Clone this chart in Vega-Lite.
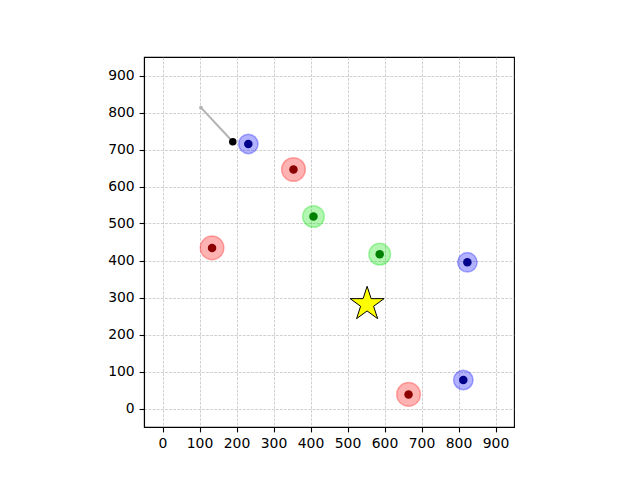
{
  "$schema": "https://vega.github.io/schema/vega-lite/v6.json",
  "autosize": {"type": "none"},
  "padding": {"left": 144, "top": 57, "right": 126, "bottom": 53},
  "width": 370,
  "height": 370,
  "background": "white",
  "config": {
    "view": {"stroke": "black", "strokeWidth": 1.1},
    "axis": {
      "labelFont": "DejaVu Sans",
      "labelFontSize": 13.9,
      "labelColor": "black",
      "tickColor": "black",
      "tickSize": 4.9,
      "tickWidth": 1.1,
      "labelPadding": 4.9,
      "domainColor": "black",
      "domainWidth": 1.1,
      "gridColor": "#b0b0b0",
      "gridWidth": 0.6,
      "gridDash": [2.8, 1.3]
    }
  },
  "datasets": {
    "trail": [
      {"x": 104, "y": 813, "step": 0},
      {"x": 190, "y": 721, "step": 1}
    ],
    "agents": [
      {"x": 232, "y": 715, "team": "blue"},
      {"x": 354, "y": 646, "team": "red"},
      {"x": 408, "y": 519, "team": "green"},
      {"x": 134, "y": 434, "team": "red"},
      {"x": 587, "y": 417, "team": "green"},
      {"x": 824, "y": 395, "team": "blue"},
      {"x": 813, "y": 77, "team": "blue"},
      {"x": 665, "y": 38, "team": "red"}
    ],
    "tracker": [{"x": 190, "y": 721}],
    "goal": [{"x": 553, "y": 282}]
  },
  "encoding": {
    "x": {
      "field": "x", "type": "quantitative", "title": null,
      "scale": {"domain": [-50, 950], "nice": false, "zero": false},
      "axis": {"values": [0, 100, 200, 300, 400, 500, 600, 700, 800, 900]}
    },
    "y": {
      "field": "y", "type": "quantitative", "title": null,
      "scale": {"domain": [-50, 950], "nice": false, "zero": false},
      "axis": {"values": [0, 100, 200, 300, 400, 500, 600, 700, 800, 900]}
    }
  },
  "layer": [
    {
      "data": {"name": "trail"},
      "mark": {"type": "line", "color": "#b3b3b3", "strokeWidth": 2},
      "encoding": {"order": {"field": "step"}}
    },
    {
      "data": {"name": "trail"},
      "transform": [{"filter": "datum.step == 0"}],
      "mark": {"type": "point", "filled": true, "color": "#b3b3b3", "size": 14, "opacity": 1}
    },
    {
      "data": {"name": "agents"},
      "mark": {"type": "point", "shape": "circle", "filled": true, "fillOpacity": 0.3, "strokeOpacity": 0.3, "strokeWidth": 1.5},
      "encoding": {
        "fill": {"field": "team", "type": "nominal", "scale": {"domain": ["red", "green", "blue"], "range": ["#ff0000", "#00e000", "#0000ff"]}, "legend": null},
        "stroke": {"field": "team", "type": "nominal", "scale": {"domain": ["red", "green", "blue"], "range": ["#ff0000", "#00e000", "#0000ff"]}, "legend": null},
        "size": {"field": "team", "type": "nominal", "scale": {"domain": ["red", "green", "blue"], "range": [560, 380, 250]}, "legend": null}
      }
    },
    {
      "data": {"name": "agents"},
      "mark": {"type": "point", "shape": "circle", "filled": true, "opacity": 1, "size": 72},
      "encoding": {
        "color": {"field": "team", "type": "nominal", "scale": {"domain": ["red", "green", "blue"], "range": ["#8b0000", "#008000", "#00008b"]}, "legend": null}
      }
    },
    {
      "data": {"name": "tracker"},
      "mark": {"type": "point", "shape": "circle", "filled": true, "opacity": 1, "size": 56, "color": "black"}
    },
    {
      "data": {"name": "goal"},
      "mark": {
        "type": "point",
        "shape": "M0,-1L0.225,-0.309L0.951,-0.309L0.363,0.118L0.588,0.809L0,0.382L-0.588,0.809L-0.363,0.118L-0.951,-0.309L-0.225,-0.309Z",
        "filled": true, "opacity": 1, "size": 1280, "fill": "yellow", "stroke": "black", "strokeWidth": 1
      }
    }
  ]
}
